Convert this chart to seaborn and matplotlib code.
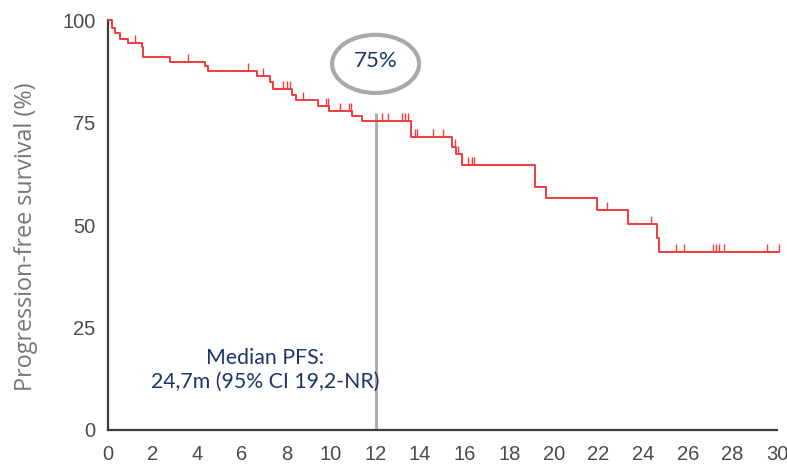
import numpy as np
import pandas as pd
import matplotlib
matplotlib.use("Agg")
import matplotlib.pyplot as plt
from matplotlib.patches import Ellipse
from matplotlib.path import Path
import seaborn as sns

# Kaplan-Meier step points (months, % progression-free)
event_months = [0, 0.16, 0.31, 0.54, 0.91, 1.51, 1.58, 2.78, 4.35, 4.50, 6.67, 7.26,
                7.40, 8.23, 8.45, 9.43, 9.93, 10.93, 11.37, 13.60, 15.41, 15.62,
                15.86, 19.15, 19.63, 21.91, 23.30, 24.60, 24.70, 30.10]
survival_pct = [100, 98.1, 96.9, 95.5, 94.6, 93.6, 91.0, 89.9, 88.9, 87.7, 86.4, 85.0,
                83.2, 81.8, 80.7, 79.1, 77.9, 76.7, 75.4, 71.6, 69.1, 67.5,
                64.8, 59.4, 56.7, 53.8, 50.2, 47.0, 43.5, 43.5]
censor_months = [1.21, 3.57, 6.29, 6.97, 7.86, 8.01, 8.16, 8.76, 9.78, 9.88, 10.40,
                 10.82, 10.89, 12.27, 12.57, 13.17, 13.32, 13.47, 13.77, 13.87, 14.59,
                 15.04, 15.56, 15.71, 16.16, 16.31, 16.41, 22.36, 24.37, 25.47, 25.84,
                 27.12, 27.26, 27.41, 27.62, 29.54, 30.10]

x_ticks = list(range(0, 31, 2))
y_ticks = [0, 25, 50, 75, 100]
landmark_month = 12
landmark_label = "75%"
median_text = "Median PFS:\n24,7m (95% CI 19,2-NR)"

red = "#f23b3b"
navy = "#1f3468"
axis_col = "#3c3c3c"

sns.set_theme(style="white")
plt.rcParams["font.family"] = ["Open Sans", "DejaVu Sans"]

df = pd.DataFrame({"month": event_months, "pfs": survival_pct})

fig = plt.figure(figsize=(7.87, 4.72), dpi=100)
ax = fig.add_axes([0.1372, 0.0890, 0.9915 - 0.1372, 0.9566 - 0.0890])

sns.lineplot(data=df, x="month", y="pfs", drawstyle="steps-post", estimator=None,
             sort=False, color=red, linewidth=1.4, ax=ax, clip_on=False, zorder=3)

# censor marks: short upward ticks sitting on the curve
idx = np.searchsorted(np.array(event_months), np.array(censor_months), side="right") - 1
censor_level = np.array(survival_pct)[idx]
tick_marker = Path([(0, 0), (0, 1)], [Path.MOVETO, Path.LINETO])
ax.plot(censor_months, censor_level, ls="none", marker=tick_marker, markersize=12,
        markeredgecolor=red, markeredgewidth=1.0, clip_on=False, zorder=3)

# landmark line at 12 months
s12 = np.array(survival_pct)[np.searchsorted(event_months, landmark_month, side="right") - 1]
ax.vlines(landmark_month, 0, s12 + 2, color="#a8a8a8", linewidth=2, zorder=2)

ax.add_patch(Ellipse((landmark_month, 89.4), 3.9, 14.2, fill=False,
                     edgecolor="#a9a9a9", linewidth=3, clip_on=False))
ax.text(landmark_month, 90.0, landmark_label, ha="center", va="center",
        fontsize=16, color=navy, family=["Lato", "DejaVu Sans"])

ax.text(7.05, 14.6, median_text, ha="center", va="center", fontsize=15.3,
        color=navy, family=["Lato", "DejaVu Sans"], linespacing=1.25)

ax.set_xlim(0, 30.15)
ax.set_ylim(0, 100)
ax.set_xticks(x_ticks)
ax.set_yticks(y_ticks)
ax.set_xlabel("")
ax.set_ylabel("Progression-free survival (%)", fontsize=16.8, color="#767676")
ax.yaxis.set_label_coords(-0.104, 0.471)

for side in ["top", "right"]:
    ax.spines[side].set_visible(False)
for side in ["left", "bottom"]:
    ax.spines[side].set_color(axis_col)
    ax.spines[side].set_linewidth(1.6)
ax.spines["bottom"].set_bounds(0, 30)

ax.tick_params(axis="both", direction="out", length=6, width=1.3, color=axis_col,
               labelcolor="#4a4a4a", labelsize=14.5, pad=3)
ax.tick_params(axis="x", length=7, pad=4)
for lab in ax.get_xticklabels() + ax.get_yticklabels():
    lab.set_family(["Liberation Sans", "DejaVu Sans"])

fig.savefig("out.png", dpi=100)
